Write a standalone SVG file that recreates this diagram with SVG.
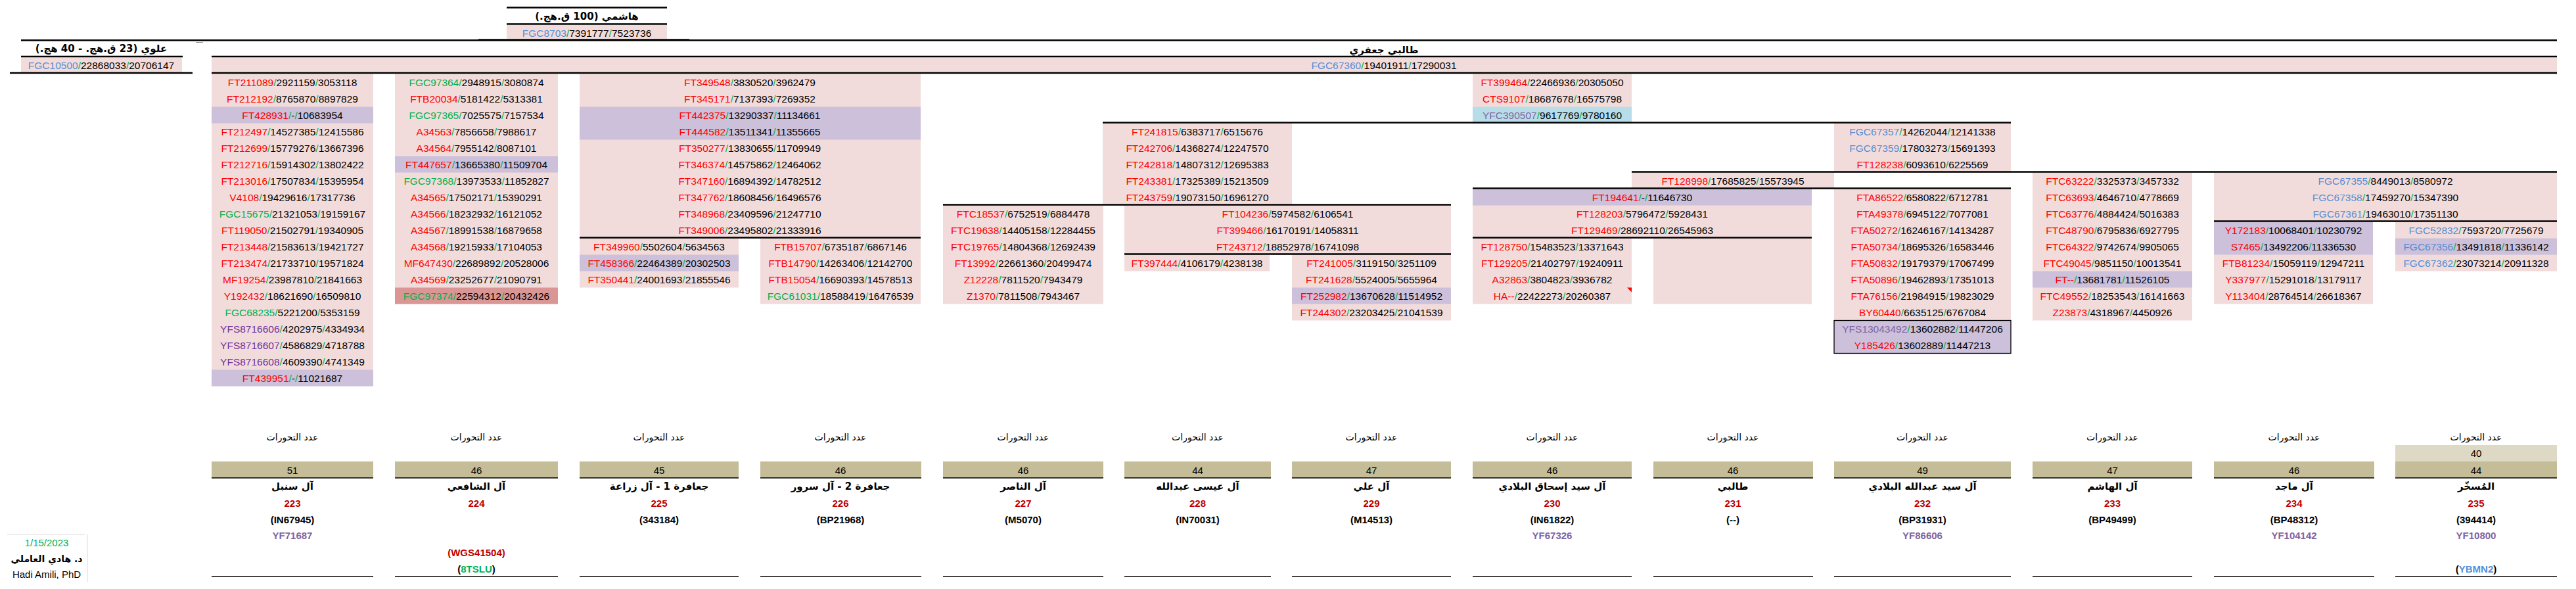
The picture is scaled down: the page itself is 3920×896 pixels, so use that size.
<svg xmlns="http://www.w3.org/2000/svg" width="3920" height="896" viewBox="0 0 3920 896">
<style>
.d{font-family:"Liberation Sans",Arial,sans-serif;font-size:15.5px;text-anchor:middle;fill:#000}
.r{fill:#FF0000}.s{fill:#00B050}.g{fill:#00B050}.b{fill:#558ED5}.p{fill:#7030A0}.q{fill:#8064A2}.dr{fill:#C00000}
.ar{font-family:"DejaVu Sans",sans-serif;direction:rtl;text-anchor:middle;fill:#000}
.hb{font-size:15px;font-weight:bold}
.pk{fill:#F2DCDB}.lv{fill:#CCC0DA}.sa{fill:#DA9694}.lb{fill:#B7DEE8}.tan{fill:#C4BD97}.ltan{fill:#DDD9C4}
.ln{stroke:#000;stroke-width:2.5;fill:none}
.ln1{stroke:#000;stroke-width:1.6;fill:none}
.bt{font-family:"Liberation Sans",Arial,sans-serif;font-size:15px;text-anchor:middle;fill:#000}
.bb{font-weight:bold}
</style>
<rect width="3920" height="896" fill="#fff"/>

<g id="hashemi">
<rect class="pk" x="771" y="38" width="244" height="21"/>
<text class="ar hb" x="893" y="30">هاشمي (100 ق.هج.)</text>
<text class="d" x="893" y="55.5"><tspan class="b">FGC8703</tspan><tspan class="s">/</tspan>7391777<tspan class="s">/</tspan>7523736</text>
</g>

<g id="alawi">
<rect class="pk" x="32" y="87.5" width="245" height="23"/>
<text class="ar hb" x="154" y="79">علوي (23 ق.هج. - 40 هج.)</text>
<text class="d" x="154" y="104.5"><tspan class="b">FGC10500</tspan><tspan class="s">/</tspan>22868033<tspan class="s">/</tspan>20706147</text>
</g>

<g id="talibi-jafari">
<rect class="pk" x="322" y="87.5" width="3569" height="23"/>
<text class="ar hb" x="2106" y="81">طالبي جعفري</text>
<text class="d" x="2106" y="104.5"><tspan class="b">FGC67360</tspan><tspan class="s">/</tspan>19401911<tspan class="s">/</tspan>17290031</text>
</g>

<g id="col1" class="d">
<rect class="pk" x="322" y="112.5" width="246" height="475"/>
<rect class="lv" x="322" y="162.5" width="246" height="25"/>
<rect class="lv" x="322" y="562.5" width="246" height="25"/>
<text x="445" y="130.5"><tspan class="r">FT211089</tspan><tspan class="s">/</tspan>2921159<tspan class="s">/</tspan>3053118</text>
<text x="445" y="155.5"><tspan class="r">FT212192</tspan><tspan class="s">/</tspan>8765870<tspan class="s">/</tspan>8897829</text>
<text x="445" y="180.5"><tspan class="r">FT428931</tspan><tspan class="s">/</tspan>-<tspan class="s">/</tspan>10683954</text>
<text x="445" y="205.5"><tspan class="r">FT212497</tspan><tspan class="s">/</tspan>14527385<tspan class="s">/</tspan>12415586</text>
<text x="445" y="230.5"><tspan class="r">FT212699</tspan><tspan class="s">/</tspan>15779276<tspan class="s">/</tspan>13667396</text>
<text x="445" y="255.5"><tspan class="r">FT212716</tspan><tspan class="s">/</tspan>15914302<tspan class="s">/</tspan>13802422</text>
<text x="445" y="280.5"><tspan class="r">FT213016</tspan><tspan class="s">/</tspan>17507834<tspan class="s">/</tspan>15395954</text>
<text x="445" y="305.5"><tspan class="r">V4108</tspan><tspan class="s">/</tspan>19429616<tspan class="s">/</tspan>17317736</text>
<text x="445" y="330.5"><tspan class="g">FGC15675</tspan><tspan class="s">/</tspan>21321053<tspan class="s">/</tspan>19159167</text>
<text x="445" y="355.5"><tspan class="r">FT119050</tspan><tspan class="s">/</tspan>21502791<tspan class="s">/</tspan>19340905</text>
<text x="445" y="380.5"><tspan class="r">FT213448</tspan><tspan class="s">/</tspan>21583613<tspan class="s">/</tspan>19421727</text>
<text x="445" y="405.5"><tspan class="r">FT213474</tspan><tspan class="s">/</tspan>21733710<tspan class="s">/</tspan>19571824</text>
<text x="445" y="430.5"><tspan class="r">MF19254</tspan><tspan class="s">/</tspan>23987810<tspan class="s">/</tspan>21841663</text>
<text x="445" y="455.5"><tspan class="r">Y192432</tspan><tspan class="s">/</tspan>18621690<tspan class="s">/</tspan>16509810</text>
<text x="445" y="480.5"><tspan class="g">FGC68235</tspan><tspan class="s">/</tspan>5221200<tspan class="s">/</tspan>5353159</text>
<text x="445" y="505.5"><tspan class="p">YFS8716606</tspan><tspan class="s">/</tspan>4202975<tspan class="s">/</tspan>4334934</text>
<text x="445" y="530.5"><tspan class="p">YFS8716607</tspan><tspan class="s">/</tspan>4586829<tspan class="s">/</tspan>4718788</text>
<text x="445" y="555.5"><tspan class="p">YFS8716608</tspan><tspan class="s">/</tspan>4609390<tspan class="s">/</tspan>4741349</text>
<text x="445" y="580.5"><tspan class="r">FT439951</tspan><tspan class="s">/</tspan>-<tspan class="s">/</tspan>11021687</text>
</g>

<g id="col2" class="d">
<rect class="pk" x="601" y="112.5" width="248" height="350"/>
<rect class="lv" x="601" y="237.5" width="248" height="25"/>
<rect class="sa" x="601" y="437.5" width="248" height="25"/>
<text x="725" y="130.5"><tspan class="g">FGC97364</tspan><tspan class="s">/</tspan>2948915<tspan class="s">/</tspan>3080874</text>
<text x="725" y="155.5"><tspan class="r">FTB20034</tspan><tspan class="s">/</tspan>5181422<tspan class="s">/</tspan>5313381</text>
<text x="725" y="180.5"><tspan class="g">FGC97365</tspan><tspan class="s">/</tspan>7025575<tspan class="s">/</tspan>7157534</text>
<text x="725" y="205.5"><tspan class="r">A34563</tspan><tspan class="s">/</tspan>7856658<tspan class="s">/</tspan>7988617</text>
<text x="725" y="230.5"><tspan class="r">A34564</tspan><tspan class="s">/</tspan>7955142<tspan class="s">/</tspan>8087101</text>
<text x="725" y="255.5"><tspan class="r">FT447657</tspan><tspan class="s">/</tspan>13665380<tspan class="s">/</tspan>11509704</text>
<text x="725" y="280.5"><tspan class="g">FGC97368</tspan><tspan class="s">/</tspan>13973533<tspan class="s">/</tspan>11852827</text>
<text x="725" y="305.5"><tspan class="r">A34565</tspan><tspan class="s">/</tspan>17502171<tspan class="s">/</tspan>15390291</text>
<text x="725" y="330.5"><tspan class="r">A34566</tspan><tspan class="s">/</tspan>18232932<tspan class="s">/</tspan>16121052</text>
<text x="725" y="355.5"><tspan class="r">A34567</tspan><tspan class="s">/</tspan>18991538<tspan class="s">/</tspan>16879658</text>
<text x="725" y="380.5"><tspan class="r">A34568</tspan><tspan class="s">/</tspan>19215933<tspan class="s">/</tspan>17104053</text>
<text x="725" y="405.5"><tspan class="r">MF647430</tspan><tspan class="s">/</tspan>22689892<tspan class="s">/</tspan>20528006</text>
<text x="725" y="430.5"><tspan class="r">A34569</tspan><tspan class="s">/</tspan>23252677<tspan class="s">/</tspan>21090791</text>
<text x="725" y="455.5"><tspan class="g">FGC97374</tspan><tspan class="s">/</tspan>22594312<tspan class="s">/</tspan>20432426</text>
</g>

<g id="col3" class="d">
<rect class="pk" x="882" y="112.5" width="519" height="250"/>
<rect class="lv" x="882" y="162.5" width="519" height="50"/>
<text x="1141" y="130.5"><tspan class="r">FT349548</tspan><tspan class="s">/</tspan>3830520<tspan class="s">/</tspan>3962479</text>
<text x="1141" y="155.5"><tspan class="r">FT345171</tspan><tspan class="s">/</tspan>7137393<tspan class="s">/</tspan>7269352</text>
<text x="1141" y="180.5"><tspan class="r">FT442375</tspan><tspan class="s">/</tspan>13290337<tspan class="s">/</tspan>11134661</text>
<text x="1141" y="205.5"><tspan class="r">FT444582</tspan><tspan class="s">/</tspan>13511341<tspan class="s">/</tspan>11355665</text>
<text x="1141" y="230.5"><tspan class="r">FT350277</tspan><tspan class="s">/</tspan>13830655<tspan class="s">/</tspan>11709949</text>
<text x="1141" y="255.5"><tspan class="r">FT346374</tspan><tspan class="s">/</tspan>14575862<tspan class="s">/</tspan>12464062</text>
<text x="1141" y="280.5"><tspan class="r">FT347160</tspan><tspan class="s">/</tspan>16894392<tspan class="s">/</tspan>14782512</text>
<text x="1141" y="305.5"><tspan class="r">FT347762</tspan><tspan class="s">/</tspan>18608456<tspan class="s">/</tspan>16496576</text>
<text x="1141" y="330.5"><tspan class="r">FT348968</tspan><tspan class="s">/</tspan>23409596<tspan class="s">/</tspan>21247710</text>
<text x="1141" y="355.5"><tspan class="r">FT349006</tspan><tspan class="s">/</tspan>23495802<tspan class="s">/</tspan>21333916</text>
</g>

<g id="col3a" class="d">
<rect class="pk" x="882" y="362.5" width="242" height="75"/>
<rect class="lv" x="882" y="387.5" width="242" height="25"/>
<text x="1003" y="380.5"><tspan class="r">FT349960</tspan><tspan class="s">/</tspan>5502604<tspan class="s">/</tspan>5634563</text>
<text x="1003" y="405.5"><tspan class="r">FT458366</tspan><tspan class="s">/</tspan>22464389<tspan class="s">/</tspan>20302503</text>
<text x="1003" y="430.5"><tspan class="r">FT350441</tspan><tspan class="s">/</tspan>24001693<tspan class="s">/</tspan>21855546</text>
</g>

<g id="col3b" class="d">
<rect class="pk" x="1157" y="362.5" width="244" height="100"/>
<text x="1279" y="380.5"><tspan class="r">FTB15707</tspan><tspan class="s">/</tspan>6735187<tspan class="s">/</tspan>6867146</text>
<text x="1279" y="405.5"><tspan class="r">FTB14790</tspan><tspan class="s">/</tspan>14263406<tspan class="s">/</tspan>12142700</text>
<text x="1279" y="430.5"><tspan class="r">FTB15054</tspan><tspan class="s">/</tspan>16690393<tspan class="s">/</tspan>14578513</text>
<text x="1279" y="455.5"><tspan class="g">FGC61031</tspan><tspan class="s">/</tspan>18588419<tspan class="s">/</tspan>16476539</text>
</g>

<g id="col5" class="d">
<rect class="pk" x="1435" y="312.5" width="244" height="150"/>
<text x="1557" y="330.5"><tspan class="r">FTC18537</tspan><tspan class="s">/</tspan>6752519<tspan class="s">/</tspan>6884478</text>
<text x="1557" y="355.5"><tspan class="r">FTC19638</tspan><tspan class="s">/</tspan>14405158<tspan class="s">/</tspan>12284455</text>
<text x="1557" y="380.5"><tspan class="r">FTC19765</tspan><tspan class="s">/</tspan>14804368<tspan class="s">/</tspan>12692439</text>
<text x="1557" y="405.5"><tspan class="r">FT13992</tspan><tspan class="s">/</tspan>22661360<tspan class="s">/</tspan>20499474</text>
<text x="1557" y="430.5"><tspan class="r">Z12228</tspan><tspan class="s">/</tspan>7811520<tspan class="s">/</tspan>7943479</text>
<text x="1557" y="455.5"><tspan class="r">Z1370</tspan><tspan class="s">/</tspan>7811508<tspan class="s">/</tspan>7943467</text>
</g>

<g id="ft241815" class="d">
<rect class="pk" x="1678" y="187.5" width="288" height="125"/>
<text x="1822" y="205.5"><tspan class="r">FT241815</tspan><tspan class="s">/</tspan>6383717<tspan class="s">/</tspan>6515676</text>
<text x="1822" y="230.5"><tspan class="r">FT242706</tspan><tspan class="s">/</tspan>14368274<tspan class="s">/</tspan>12247570</text>
<text x="1822" y="255.5"><tspan class="r">FT242818</tspan><tspan class="s">/</tspan>14807312<tspan class="s">/</tspan>12695383</text>
<text x="1822" y="280.5"><tspan class="r">FT243381</tspan><tspan class="s">/</tspan>17325389<tspan class="s">/</tspan>15213509</text>
<text x="1822" y="305.5"><tspan class="r">FT243759</tspan><tspan class="s">/</tspan>19073150<tspan class="s">/</tspan>16961270</text>
</g>

<g id="ft104236" class="d">
<rect class="pk" x="1711" y="312.5" width="497" height="75"/>
<text x="1959.5" y="330.5"><tspan class="r">FT104236</tspan><tspan class="s">/</tspan>5974582<tspan class="s">/</tspan>6106541</text>
<text x="1959.5" y="355.5"><tspan class="r">FT399466</tspan><tspan class="s">/</tspan>16170191<tspan class="s">/</tspan>14058311</text>
<text x="1959.5" y="380.5"><tspan class="r">FT243712</tspan><tspan class="s">/</tspan>18852978<tspan class="s">/</tspan>16741098</text>
</g>

<g id="col6" class="d">
<rect class="pk" x="1711" y="387.5" width="221" height="25"/>
<text x="1821.5" y="405.5"><tspan class="r">FT397444</tspan><tspan class="s">/</tspan>4106179<tspan class="s">/</tspan>4238138</text>
</g>

<g id="col7" class="d">
<rect class="pk" x="1966" y="387.5" width="242" height="100"/>
<rect class="lv" x="1966" y="437.5" width="242" height="25"/>
<text x="2087" y="405.5"><tspan class="r">FT241005</tspan><tspan class="s">/</tspan>3119150<tspan class="s">/</tspan>3251109</text>
<text x="2087" y="430.5"><tspan class="r">FT241628</tspan><tspan class="s">/</tspan>5524005<tspan class="s">/</tspan>5655964</text>
<text x="2087" y="455.5"><tspan class="r">FT252982</tspan><tspan class="s">/</tspan>13670628<tspan class="s">/</tspan>11514952</text>
<text x="2087" y="480.5"><tspan class="r">FT244302</tspan><tspan class="s">/</tspan>23203425<tspan class="s">/</tspan>21041539</text>
</g>

<g id="ft399464" class="d">
<rect class="pk" x="2241" y="112.5" width="242" height="75"/>
<rect class="lb" x="2241" y="162.5" width="242" height="25"/>
<text x="2362" y="130.5"><tspan class="r">FT399464</tspan><tspan class="s">/</tspan>22466936<tspan class="s">/</tspan>20305050</text>
<text x="2362" y="155.5"><tspan class="r">CTS9107</tspan><tspan class="s">/</tspan>18687678<tspan class="s">/</tspan>16575798</text>
<text x="2362" y="180.5"><tspan class="q">YFC390507</tspan><tspan class="s">/</tspan>9617769<tspan class="s">/</tspan>9780160</text>
</g>

<g id="fgc67357" class="d">
<rect class="pk" x="2791" y="187.5" width="269" height="75"/>
<text x="2925.5" y="205.5"><tspan class="b">FGC67357</tspan><tspan class="s">/</tspan>14262044<tspan class="s">/</tspan>12141338</text>
<text x="2925.5" y="230.5"><tspan class="b">FGC67359</tspan><tspan class="s">/</tspan>17803273<tspan class="s">/</tspan>15691393</text>
<text x="2925.5" y="255.5"><tspan class="r">FT128238</tspan><tspan class="s">/</tspan>6093610<tspan class="s">/</tspan>6225569</text>
</g>

<g id="ft128998" class="d">
<rect class="pk" x="2483" y="262.5" width="308" height="25"/>
<text x="2637" y="280.5"><tspan class="r">FT128998</tspan><tspan class="s">/</tspan>17685825<tspan class="s">/</tspan>15573945</text>
</g>

<g id="ft194641" class="d">
<rect class="pk" x="2241" y="287.5" width="516" height="75"/>
<rect class="lv" x="2241" y="287.5" width="516" height="25"/>
<text x="2499" y="305.5"><tspan class="r">FT194641</tspan><tspan class="s">/</tspan>-<tspan class="s">/</tspan>11646730</text>
<text x="2499" y="330.5"><tspan class="r">FT128203</tspan><tspan class="s">/</tspan>5796472<tspan class="s">/</tspan>5928431</text>
<text x="2499" y="355.5"><tspan class="r">FT129469</tspan><tspan class="s">/</tspan>28692110<tspan class="s">/</tspan>26545963</text>
</g>

<g id="col8" class="d">
<rect class="pk" x="2241" y="362.5" width="242" height="100"/>
<text x="2362" y="380.5"><tspan class="r">FT128750</tspan><tspan class="s">/</tspan>15483523<tspan class="s">/</tspan>13371643</text>
<text x="2362" y="405.5"><tspan class="r">FT129205</tspan><tspan class="s">/</tspan>21402797<tspan class="s">/</tspan>19240911</text>
<text x="2362" y="430.5"><tspan class="r">A32863</tspan><tspan class="s">/</tspan>3804823<tspan class="s">/</tspan>3936782</text>
<text x="2362" y="455.5"><tspan class="r">HA--</tspan><tspan class="s">/</tspan>22422273<tspan class="s">/</tspan>20260387</text>
<polygon points="2476,437.5 2483,437.5 2483,444.5" fill="#FF0000"/>
</g>

<g id="col9">
<rect class="pk" x="2516" y="362.5" width="241" height="100"/>
</g>

<g id="col10" class="d">
<rect class="pk" x="2791" y="287.5" width="269" height="200"/>
<rect class="lv" x="2791" y="487.5" width="269" height="50" stroke="#000" stroke-width="1.3"/>
<text x="2925.5" y="305.5"><tspan class="r">FTA86522</tspan><tspan class="s">/</tspan>6580822<tspan class="s">/</tspan>6712781</text>
<text x="2925.5" y="330.5"><tspan class="r">FTA49378</tspan><tspan class="s">/</tspan>6945122<tspan class="s">/</tspan>7077081</text>
<text x="2925.5" y="355.5"><tspan class="r">FTA50272</tspan><tspan class="s">/</tspan>16246167<tspan class="s">/</tspan>14134287</text>
<text x="2925.5" y="380.5"><tspan class="r">FTA50734</tspan><tspan class="s">/</tspan>18695326<tspan class="s">/</tspan>16583446</text>
<text x="2925.5" y="405.5"><tspan class="r">FTA50832</tspan><tspan class="s">/</tspan>19179379<tspan class="s">/</tspan>17067499</text>
<text x="2925.5" y="430.5"><tspan class="r">FTA50896</tspan><tspan class="s">/</tspan>19462893<tspan class="s">/</tspan>17351013</text>
<text x="2925.5" y="455.5"><tspan class="r">FTA76156</tspan><tspan class="s">/</tspan>21984915<tspan class="s">/</tspan>19823029</text>
<text x="2925.5" y="480.5"><tspan class="r">BY60440</tspan><tspan class="s">/</tspan>6635125<tspan class="s">/</tspan>6767084</text>
<text x="2925.5" y="505.5"><tspan class="q">YFS13043492</tspan><tspan class="s">/</tspan>13602882<tspan class="s">/</tspan>11447206</text>
<text x="2925.5" y="530.5"><tspan class="r">Y185426</tspan><tspan class="s">/</tspan>13602889<tspan class="s">/</tspan>11447213</text>
</g>

<g id="col11" class="d">
<rect class="pk" x="3093" y="262.5" width="243" height="225"/>
<rect class="lv" x="3093" y="412.5" width="243" height="25"/>
<text x="3214.5" y="280.5"><tspan class="r">FTC63222</tspan><tspan class="s">/</tspan>3325373<tspan class="s">/</tspan>3457332</text>
<text x="3214.5" y="305.5"><tspan class="r">FTC63693</tspan><tspan class="s">/</tspan>4646710<tspan class="s">/</tspan>4778669</text>
<text x="3214.5" y="330.5"><tspan class="r">FTC63776</tspan><tspan class="s">/</tspan>4884424<tspan class="s">/</tspan>5016383</text>
<text x="3214.5" y="355.5"><tspan class="r">FTC48790</tspan><tspan class="s">/</tspan>6795836<tspan class="s">/</tspan>6927795</text>
<text x="3214.5" y="380.5"><tspan class="r">FTC64322</tspan><tspan class="s">/</tspan>9742674<tspan class="s">/</tspan>9905065</text>
<text x="3214.5" y="405.5"><tspan class="r">FTC49045</tspan><tspan class="s">/</tspan>9851150<tspan class="s">/</tspan>10013541</text>
<text x="3214.5" y="430.5"><tspan class="r">FT--</tspan><tspan class="s">/</tspan>13681781<tspan class="s">/</tspan>11526105</text>
<text x="3214.5" y="455.5"><tspan class="r">FTC49552</tspan><tspan class="s">/</tspan>18253543<tspan class="s">/</tspan>16141663</text>
<text x="3214.5" y="480.5"><tspan class="r">Z23873</tspan><tspan class="s">/</tspan>4318967<tspan class="s">/</tspan>4450926</text>
</g>

<g id="fgc67355" class="d">
<rect class="pk" x="3369" y="262.5" width="522" height="75"/>
<text x="3630" y="280.5"><tspan class="b">FGC67355</tspan><tspan class="s">/</tspan>8449013<tspan class="s">/</tspan>8580972</text>
<text x="3630" y="305.5"><tspan class="b">FGC67358</tspan><tspan class="s">/</tspan>17459270<tspan class="s">/</tspan>15347390</text>
<text x="3630" y="330.5"><tspan class="b">FGC67361</tspan><tspan class="s">/</tspan>19463010<tspan class="s">/</tspan>17351130</text>
</g>

<g id="col12" class="d">
<rect class="pk" x="3369" y="337.5" width="242" height="125"/>
<rect class="lv" x="3369" y="337.5" width="242" height="50"/>
<text x="3490" y="355.5"><tspan class="r">Y172183</tspan><tspan class="s">/</tspan>10068401<tspan class="s">/</tspan>10230792</text>
<text x="3490" y="380.5"><tspan class="r">S7465</tspan><tspan class="s">/</tspan>13492206<tspan class="s">/</tspan>11336530</text>
<text x="3490" y="405.5"><tspan class="r">FTB81234</tspan><tspan class="s">/</tspan>15059119<tspan class="s">/</tspan>12947211</text>
<text x="3490" y="430.5"><tspan class="r">Y337977</tspan><tspan class="s">/</tspan>15291018<tspan class="s">/</tspan>13179117</text>
<text x="3490" y="455.5"><tspan class="r">Y113404</tspan><tspan class="s">/</tspan>28764514<tspan class="s">/</tspan>26618367</text>
</g>

<g id="col13" class="d">
<rect class="pk" x="3645" y="337.5" width="246" height="75"/>
<rect class="lv" x="3645" y="362.5" width="246" height="25"/>
<text x="3768" y="355.5"><tspan class="b">FGC52832</tspan><tspan class="s">/</tspan>7593720<tspan class="s">/</tspan>7725679</text>
<text x="3768" y="380.5"><tspan class="b">FGC67356</tspan><tspan class="s">/</tspan>13491818<tspan class="s">/</tspan>11336142</text>
<text x="3768" y="405.5"><tspan class="b">FGC67362</tspan><tspan class="s">/</tspan>23073214<tspan class="s">/</tspan>20911328</text>
</g>

<g id="connectors">
<line class="ln" x1="771" y1="11.5" x2="1015" y2="11.5"/>
<line class="ln" x1="771" y1="36.5" x2="1015" y2="36.5"/>
<line x1="728" y1="59.5" x2="1049" y2="59.5" stroke="#444" stroke-width="1"/>
<line x1="298" y1="64.5" x2="309" y2="64.5" stroke="#999" stroke-width="1"/>
<line class="ln" x1="32" y1="61.3" x2="3891" y2="61.3"/>
<line class="ln" x1="32" y1="86" x2="278" y2="86"/>
<line class="ln" x1="322" y1="86" x2="3891" y2="86"/>
<line class="ln" x1="15" y1="111" x2="293" y2="111"/>
<line class="ln" x1="322" y1="111" x2="3891" y2="111"/>
<line class="ln" x1="1678" y1="186.5" x2="3060" y2="186.5"/>
<line class="ln" x1="2483" y1="261.5" x2="3891" y2="261.5"/>
<line class="ln" x1="2241" y1="286.5" x2="3060" y2="286.5"/>
<line class="ln" x1="1435" y1="311.5" x2="2208" y2="311.5"/>
<line class="ln" x1="3369" y1="336.5" x2="3891" y2="336.5"/>
<line class="ln" x1="882" y1="361.5" x2="1401" y2="361.5"/>
<line class="ln" x1="2241" y1="361.5" x2="2757" y2="361.5"/>
<line class="ln" x1="1711" y1="386.5" x2="2208" y2="386.5"/>
</g>

<g id="bottom" class="bt">
<g id="b1">
<text class="ar" x="445" y="670" font-size="14">عدد التحورات</text>
<rect class="tan" x="322" y="702" width="246" height="25"/>
<line class="ln1" x1="322" y1="727" x2="568" y2="727"/>
<text x="445" y="721">51</text>
<text class="ar bb" x="445" y="745" font-size="15">آل سنبل</text>
<text class="bb dr" x="445" y="771">223</text>
<text class="bb" x="445" y="796">(IN67945)</text>
<text class="bb q" x="445" y="820">YF71687</text>
<line class="ln1" x1="322" y1="877" x2="568" y2="877"/>
</g>
<g id="b2">
<text class="ar" x="725" y="670" font-size="14">عدد التحورات</text>
<rect class="tan" x="601" y="702" width="248" height="25"/>
<line class="ln1" x1="601" y1="727" x2="849" y2="727"/>
<text x="725" y="721">46</text>
<text class="ar bb" x="725" y="745" font-size="15">آل الشافعي</text>
<text class="bb dr" x="725" y="771">224</text>
<text class="bb dr" x="725" y="846">(WGS41504)</text>
<text class="bb" x="725" y="871">(<tspan class="g">8TSLU</tspan>)</text>
<line class="ln1" x1="601" y1="877" x2="849" y2="877"/>
</g>
<g id="b3">
<text class="ar" x="1003" y="670" font-size="14">عدد التحورات</text>
<rect class="tan" x="882" y="702" width="242" height="25"/>
<line class="ln1" x1="882" y1="727" x2="1124" y2="727"/>
<text x="1003" y="721">45</text>
<text class="ar bb" x="1003" y="745" font-size="15">جعافرة 1 - آل زراعة</text>
<text class="bb dr" x="1003" y="771">225</text>
<text class="bb" x="1003" y="796">(343184)</text>
<line class="ln1" x1="882" y1="877" x2="1124" y2="877"/>
</g>
<g id="b4">
<text class="ar" x="1279" y="670" font-size="14">عدد التحورات</text>
<rect class="tan" x="1157" y="702" width="245" height="25"/>
<line class="ln1" x1="1157" y1="727" x2="1402" y2="727"/>
<text x="1279" y="721">46</text>
<text class="ar bb" x="1279" y="745" font-size="15">جعافرة 2 - آل سرور</text>
<text class="bb dr" x="1279" y="771">226</text>
<text class="bb" x="1279" y="796">(BP21968)</text>
<line class="ln1" x1="1157" y1="877" x2="1402" y2="877"/>
</g>
<g id="b5">
<text class="ar" x="1557" y="670" font-size="14">عدد التحورات</text>
<rect class="tan" x="1435" y="702" width="244" height="25"/>
<line class="ln1" x1="1435" y1="727" x2="1679" y2="727"/>
<text x="1557" y="721">46</text>
<text class="ar bb" x="1557" y="745" font-size="15">آل الناصر</text>
<text class="bb dr" x="1557" y="771">227</text>
<text class="bb" x="1557" y="796">(M5070)</text>
<line class="ln1" x1="1435" y1="877" x2="1679" y2="877"/>
</g>
<g id="b6">
<text class="ar" x="1822.5" y="670" font-size="14">عدد التحورات</text>
<rect class="tan" x="1711" y="702" width="223" height="25"/>
<line class="ln1" x1="1711" y1="727" x2="1934" y2="727"/>
<text x="1822.5" y="721">44</text>
<text class="ar bb" x="1822.5" y="745" font-size="15">آل عيسى عبدالله</text>
<text class="bb dr" x="1822.5" y="771">228</text>
<text class="bb" x="1822.5" y="796">(IN70031)</text>
<line class="ln1" x1="1711" y1="877" x2="1934" y2="877"/>
</g>
<g id="b7">
<text class="ar" x="2087" y="670" font-size="14">عدد التحورات</text>
<rect class="tan" x="1966" y="702" width="242" height="25"/>
<line class="ln1" x1="1966" y1="727" x2="2208" y2="727"/>
<text x="2087" y="721">47</text>
<text class="ar bb" x="2087" y="745" font-size="15">آل علي</text>
<text class="bb dr" x="2087" y="771">229</text>
<text class="bb" x="2087" y="796">(M14513)</text>
<line class="ln1" x1="1966" y1="877" x2="2208" y2="877"/>
</g>
<g id="b8">
<text class="ar" x="2362" y="670" font-size="14">عدد التحورات</text>
<rect class="tan" x="2241" y="702" width="242" height="25"/>
<line class="ln1" x1="2241" y1="727" x2="2483" y2="727"/>
<text x="2362" y="721">46</text>
<text class="ar bb" x="2362" y="745" font-size="15">آل سيد إسحاق البلادي</text>
<text class="bb dr" x="2362" y="771">230</text>
<text class="bb" x="2362" y="796">(IN61822)</text>
<text class="bb q" x="2362" y="820">YF67326</text>
<line class="ln1" x1="2241" y1="877" x2="2483" y2="877"/>
</g>
<g id="b9">
<text class="ar" x="2637" y="670" font-size="14">عدد التحورات</text>
<rect class="tan" x="2516" y="702" width="243" height="25"/>
<line class="ln1" x1="2516" y1="727" x2="2759" y2="727"/>
<text x="2637" y="721">46</text>
<text class="ar bb" x="2637" y="745" font-size="15">طالبي</text>
<text class="bb dr" x="2637" y="771">231</text>
<text class="bb" x="2637" y="796">(--)</text>
<line class="ln1" x1="2516" y1="877" x2="2759" y2="877"/>
</g>
<g id="b10">
<text class="ar" x="2925.5" y="670" font-size="14">عدد التحورات</text>
<rect class="tan" x="2791" y="702" width="269" height="25"/>
<line class="ln1" x1="2791" y1="727" x2="3060" y2="727"/>
<text x="2925.5" y="721">49</text>
<text class="ar bb" x="2925.5" y="745" font-size="15">آل سيد عبدالله البلادي</text>
<text class="bb dr" x="2925.5" y="771">232</text>
<text class="bb" x="2925.5" y="796">(BP31931)</text>
<text class="bb q" x="2925.5" y="820">YF86606</text>
<line class="ln1" x1="2791" y1="877" x2="3060" y2="877"/>
</g>
<g id="b11">
<text class="ar" x="3214.5" y="670" font-size="14">عدد التحورات</text>
<rect class="tan" x="3093" y="702" width="243" height="25"/>
<line class="ln1" x1="3093" y1="727" x2="3336" y2="727"/>
<text x="3214.5" y="721">47</text>
<text class="ar bb" x="3214.5" y="745" font-size="15">آل الهاشم</text>
<text class="bb dr" x="3214.5" y="771">233</text>
<text class="bb" x="3214.5" y="796">(BP49499)</text>
<line class="ln1" x1="3093" y1="877" x2="3336" y2="877"/>
</g>
<g id="b12">
<text class="ar" x="3491" y="670" font-size="14">عدد التحورات</text>
<rect class="tan" x="3369" y="702" width="244" height="25"/>
<line class="ln1" x1="3369" y1="727" x2="3613" y2="727"/>
<text x="3491" y="721">46</text>
<text class="ar bb" x="3491" y="745" font-size="15">آل ماجد</text>
<text class="bb dr" x="3491" y="771">234</text>
<text class="bb" x="3491" y="796">(BP48312)</text>
<text class="bb q" x="3491" y="820">YF104142</text>
<line class="ln1" x1="3369" y1="877" x2="3613" y2="877"/>
</g>
<g id="b13">
<text class="ar" x="3768" y="670" font-size="14">عدد التحورات</text>
<rect class="ltan" x="3645" y="677" width="246" height="25"/>
<rect class="tan" x="3645" y="702" width="246" height="25"/>
<line class="ln1" x1="3645" y1="727" x2="3891" y2="727"/>
<text x="3768" y="695">40</text>
<text x="3768" y="721">44</text>
<text class="ar bb" x="3768" y="745" font-size="15">المُسخّر</text>
<text class="bb dr" x="3768" y="771">235</text>
<text class="bb" x="3768" y="796">(394414)</text>
<text class="bb q" x="3768" y="820">YF10800</text>
<text class="bb" x="3768" y="871">(<tspan class="b">YBMN2</tspan>)</text>
<line class="ln1" x1="3645" y1="877" x2="3891" y2="877"/>
</g>
</g>

<g id="author" class="bt">
<line x1="11" y1="813" x2="129" y2="813" stroke="#D9D9D9" stroke-width="1"/>
<line x1="133" y1="813" x2="133" y2="886" stroke="#D9D9D9" stroke-width="1"/>
<text class="g" x="71" y="831">1/15/2023</text>
<text class="ar bb r" x="71" y="855" font-size="14">د. هادي العاملي</text>
<text x="71" y="879">Hadi Amili, PhD</text>
</g>
</svg>
